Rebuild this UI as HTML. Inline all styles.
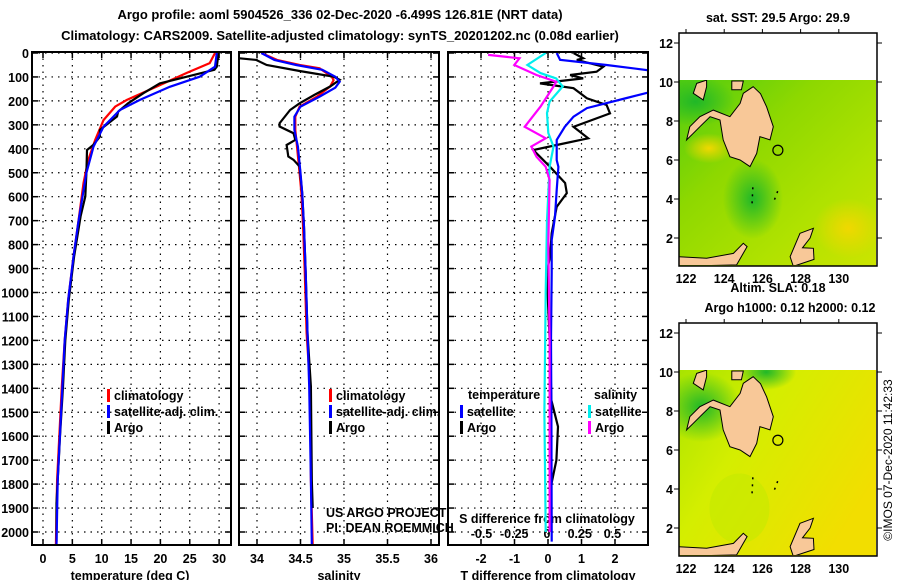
<!DOCTYPE html>
<html><head><meta charset="utf-8">
<style>
body{margin:0;background:#fff;}
svg{display:block;font-family:"Liberation Sans",sans-serif;}
.t{font-weight:bold;font-size:13px;fill:#000;}
.tk{font-weight:bold;font-size:12.5px;fill:#000;}
</style></head>
<body>
<svg id="c" width="900" height="580" viewBox="0 0 900 580">
<defs>
<linearGradient id="g1" x1="0" y1="0" x2="1" y2="1">
<stop offset="0" stop-color="#50cc10"/><stop offset="0.35" stop-color="#8ed800"/><stop offset="0.7" stop-color="#b0e200"/><stop offset="1" stop-color="#cce400"/></linearGradient>
<linearGradient id="g2" x1="0" y1="0" x2="1" y2="0.6">
<stop offset="0" stop-color="#a8e400"/><stop offset="0.4" stop-color="#d4ee00"/><stop offset="1" stop-color="#f2de00"/></linearGradient>
<radialGradient id="gr1"><stop offset="0" stop-color="#20b828"/><stop offset="1" stop-color="#20b828" stop-opacity="0"/></radialGradient>
<radialGradient id="gr2"><stop offset="0" stop-color="#f0d800"/><stop offset="1" stop-color="#f0d800" stop-opacity="0"/></radialGradient>
<clipPath id="cp1"><rect x="32" y="52" width="199" height="493"/></clipPath>
<clipPath id="cp2"><rect x="239" y="52" width="200" height="493"/></clipPath>
<clipPath id="cp3"><rect x="448" y="52" width="200" height="493"/></clipPath>
<clipPath id="cm1"><rect x="679" y="80" width="197" height="185"/></clipPath>
<clipPath id="cm2"><rect x="679" y="370" width="197" height="185"/></clipPath>
</defs>
<text class="t" x="340" y="19" text-anchor="middle">Argo profile: aoml 5904526_336 02-Dec-2020 -6.499S 126.81E (NRT data)</text>
<text class="t" x="340" y="40" text-anchor="middle">Climatology: CARS2009. Satellite-adjusted climatology: synTS_20201202.nc (0.08d earlier)</text>
<g id="plots"></g>
<g id="maps"></g>
<text x="892" y="460" font-size="12" text-anchor="middle" transform="rotate(-90 892 460)">©IMOS 07-Dec-2020 11:42:33</text>
</svg>
<script>
// ---- data ----
const depthLabels=[0,100,200,300,400,500,600,700,800,900,1000,1100,1200,1300,1400,1500,1600,1700,1800,1900,2000];
const tTicks=[0,5,10,15,20,25,30];
const sTicks=[34,34.5,35,35.5,36];
const sTickLabels=["34","34.5","35","35.5","36"];
const dTTicks=[-2,-1,0,1,2];
const dSTicks=[-0.5,-0.25,0,0.25,0.5];
const dSTickLabels=["-0.5","-0.25","0","0.25","0.5"];
// temperature profiles [depth, value]
const tClimDepth=[0,42,83,140,196,224,280,363,447,543,710,850,1030,1200,1393,1783,2055];
const tClimVal=[29.3,28.4,24.5,19.4,14.3,12.3,10.3,8.9,7.7,6.9,6.0,5.2,4.3,3.7,3.2,2.4,2.2];
const tSatDepth=[0,57,99,141,196,238,308,391,501,710,850,1030,1200,1393,1783,2055];
const tSatVal=[29.6,29.3,26.7,21.6,16.5,13.1,10.3,8.6,7.4,6.0,5.2,4.3,3.7,3.3,2.5,2.3];
const tArgoDepth=[0,57,70,99,127,168,210,245,265,321,349,383,405,501,599,682,850,1030,1200,1393,1600,1880,2040];
const tArgoVal=[29.9,29.6,29.2,24.5,19.9,17.1,14.5,12.8,12.6,9.7,9.7,8.6,7.5,7.4,7.2,6.4,5.3,4.4,3.8,3.4,2.9,2.3,2.3];
// salinity profiles
const sClimDepth=[0,29,50,64,99,113,140,182,224,266,321,391,501,585,726,918,1170,1393,1783,2055];
const sClimVal=[34.05,34.23,34.49,34.72,34.86,34.88,34.84,34.69,34.49,34.44,34.44,34.46,34.49,34.51,34.53,34.55,34.57,34.61,34.62,34.64];
const sSatDepth=[0,29,50,70,99,120,145,182,224,266,321,391,501,585,726,918,1170,1393,1783,2050];
const sSatVal=[34.05,34.2,34.45,34.75,34.9,34.95,34.9,34.72,34.5,34.43,34.43,34.47,34.5,34.52,34.54,34.56,34.58,34.6,34.62,34.63];
const sArgoDepth=[22,29,50,75,99,112,140,175,210,238,293,307,335,363,384,432,446,474,585,726,918,1170,1393,1783,1900];
const sArgoVal=[33.8,33.99,34.11,34.49,34.88,34.95,34.84,34.66,34.49,34.38,34.26,34.26,34.42,34.44,34.34,34.36,34.42,34.49,34.52,34.54,34.56,34.58,34.62,34.63,34.64];
// difference profiles
const dTSatDepth=[0,29,50,74,161,188,230,266,308,363,447,475,572,683,781,918,1200,1500,2040];
const dTSatVal=[0.26,0.36,1.75,3.1,3.1,2.35,1.16,0.76,0.5,0.26,0.26,0.31,0.26,0.21,0.11,0.11,0.09,0.1,0.11];
const dTArgoDepth=[0,22,29,57,78,92,106,127,147,189,217,252,308,356,384,405,475,543,585,642,752,850,918,1200,1450,1560,1700,1800,2000];
const dTArgoVal=[0.76,1.05,0.86,1.65,1.45,0.66,1.05,-0.24,0.76,1.16,1.75,1.85,0.76,1.2,0.26,-0.44,0.06,0.51,0.56,0.26,0.11,0.06,-0.04,0.05,0.1,0.3,0.25,0.1,0.1];
const dSSatDepth=[0,50,84,106,140,203,251,334,391,475,700,1000,1500,2000];
const dSSatVal=[-0.01,-0.15,-0.05,0.07,0.12,0.02,0,0.01,0.05,0.02,0,-0.01,-0.02,-0.01];
const dSArgoDepth=[8,22,50,92,120,140,224,308,356,391,433,475,530,800,1200,1600,2000];
const dSArgoVal=[-0.45,-0.21,-0.25,-0.08,0.07,0.05,-0.05,-0.17,-0.01,-0.12,-0.08,-0.01,0.02,0.01,0.02,0.02,0.02];
// map land polygons (lon,lat)
const mindanao=[[125.52,9.76],[125.9,9.4],[126.22,8.73],[126.57,7.71],[126.4,7.03],[125.87,7.2],[125.7,6.34],[125.35,5.66],[124.83,6.0],[124.3,6.17],[123.95,7.03],[123.78,8.05],[123.26,8.22],[122.73,7.71],[122.38,7.37],[122.03,7.03],[122.2,7.71],[122.73,8.22],[123.43,8.56],[124.3,8.22],[124.83,8.9],[125.0,9.42]];
const negros=[[122.56,9.93],[123.08,10.1],[123.08,9.76],[122.9,9.08],[122.38,9.42]];
const bohol=[[124.4,10.05],[125.0,10.05],[124.9,9.6],[124.4,9.6]];
const sulawesi=[[121.55,1.04],[123.08,0.96],[124.48,1.21],[125.0,1.73],[125.2,1.56],[124.65,0.62],[121.55,0.55]];
const halmahera=[[127.97,2.24],[128.67,2.5],[128.5,2.0],[128.1,1.5],[128.67,1.47],[128.7,0.9],[127.62,0.55],[127.45,1.04]];
const smallIsles=[[125.5,4.6],[125.45,3.6],[126.8,4.4],[126.55,3.75]];
const lonTicks=[122,124,126,128,130];
const latTicks=[2,4,6,8,10,12];
const argoPos=[126.81,6.5];

const NS='http://www.w3.org/2000/svg';
const plots=document.getElementById('plots'), maps=document.getElementById('maps');
function mk(tag,attrs,parent){const e=document.createElementNS(NS,tag);for(const k in attrs)e.setAttribute(k,attrs[k]);parent.appendChild(e);return e;}
const Y=d=>53+d*0.2395;
function panel(x0,x1,name){
  const g=mk('g',{},plots);
  
  
  return g;
}
function gridH(g,x0,x1){depthLabels.forEach(d=>{const y=Y(d);mk('line',{x1:x0,x2:x1,y1:y,y2:y,stroke:'#000','stroke-width':1.2,'stroke-dasharray':'1.5,5'},g);
 mk('line',{x1:x0,x2:x0+6,y1:y,y2:y,stroke:'#000','stroke-width':1.5},g);mk('line',{x1:x1-6,x2:x1,y1:y,y2:y,stroke:'#000','stroke-width':1.5},g);});}
function gridV(g,xs){xs.forEach(x=>{mk('line',{x1:x,x2:x,y1:52,y2:545,stroke:'#000','stroke-width':1.2,'stroke-dasharray':'1.5,5'},g);mk('line',{x1:x,x2:x,y1:52,y2:58,stroke:'#000','stroke-width':1.5},g);mk('line',{x1:x,x2:x,y1:539,y2:545,stroke:'#000','stroke-width':1.5},g);});}
function frame(g,x0,x1){mk('rect',{x:x0,y:52,width:x1-x0,height:493,fill:'none',stroke:'#000','stroke-width':2},g);}
function line(g,depths,vals,fx,color,clip,name){
  const pts=depths.map((d,i)=>fx(vals[i]).toFixed(1)+','+Y(d).toFixed(1)).join(' ');
  const p=mk('polyline',{points:pts,fill:'none',stroke:color,'stroke-width':2.2,'clip-path':'url(#'+clip+')'},g);
  
  
}
function txt(g,x,y,s,cls,anchor,name){const t=mk('text',{x:x,y:y,class:cls||'tk','text-anchor':anchor||'middle'},g);t.textContent=s;return t;}
function legend(g,x,y,color,label){mk('rect',{x:x,y:y-11,width:3,height:13,fill:color},g);txt(g,x+7,y,label,'tk','start','legend-entry');}

// Panel 1: temperature
const fT=v=>43+v*5.87;
let g=panel(32,231,'temperature-panel');
gridH(g,32,231);gridV(g,tTicks.map(fT));
depthLabels.forEach(d=>txt(g,29,Y(d)+5,String(d),'tk','end','depth-tick-label'));
tTicks.forEach(v=>txt(g,fT(v),563,String(v),'tk','middle','temperature-tick-label'));
txt(g,130,580,'temperature (deg C)','tk','middle','temperature-axis-title');
line(g,tClimDepth,tClimVal,fT,'#f00','cp1','temperature-climatology-line');
line(g,tArgoDepth,tArgoVal,fT,'#000','cp1','temperature-argo-line');
line(g,tSatDepth,tSatVal,fT,'#00f','cp1','temperature-satellite-line');
frame(g,32,231);
legend(g,107,400,'#f00','climatology');legend(g,107,416,'#00f','satellite-adj. clim.');legend(g,107,432,'#000','Argo');

// Panel 2: salinity
const fS=v=>257+(v-34)*87;
g=panel(239,439,'salinity-panel');
gridH(g,239,439);gridV(g,sTicks.map(fS));
sTicks.forEach((v,i)=>txt(g,fS(v),563,sTickLabels[i],'tk','middle','salinity-tick-label'));
txt(g,339,580,'salinity','tk','middle','salinity-axis-title');
line(g,sClimDepth,sClimVal,fS,'#f00','cp2','salinity-climatology-line');
line(g,sArgoDepth,sArgoVal,fS,'#000','cp2','salinity-argo-line');
line(g,sSatDepth,sSatVal,fS,'#00f','cp2','salinity-satellite-line');
frame(g,239,439);
legend(g,329,400,'#f00','climatology');legend(g,329,416,'#00f','satellite-adj. clim.');legend(g,329,432,'#000','Argo');
let t=txt(g,326,517,'US ARGO PROJECT','','start','project-credit');t.setAttribute('font-size','12.5');t.setAttribute('fill','#333');
t=txt(g,326,532,'PI: DEAN ROEMMICH','','start','pi-credit');t.setAttribute('font-size','12.5');t.setAttribute('fill','#333');

// Panel 3: differences
const fdT=v=>548+v*33.5, fdS=v=>547+v*131;
g=panel(448,648,'difference-panel');
gridH(g,448,648);gridV(g,dTTicks.map(fdT));
dTTicks.forEach(v=>txt(g,fdT(v),563,String(v),'tk','middle','t-diff-tick-label'));
txt(g,548,580,'T difference from climatology','tk','middle','t-diff-axis-title');
dSTicks.forEach((v,i)=>txt(g,fdS(v),538,dSTickLabels[i],'tk','middle','s-diff-tick-label'));
txt(g,547,523,'S difference from climatology','tk','middle','s-diff-axis-title');
line(g,dTArgoDepth,dTArgoVal,fdT,'#000','cp3','t-diff-argo-line');
line(g,dTSatDepth,dTSatVal,fdT,'#00f','cp3','t-diff-satellite-line');
line(g,dSSatDepth,dSSatVal,fdS,'#0ee','cp3','s-diff-satellite-line');
line(g,dSArgoDepth,dSArgoVal,fdS,'#f0f','cp3','s-diff-argo-line');
frame(g,448,648);
txt(g,468,399,'temperature','tk','start','legend-temperature-heading');
legend(g,460,416,'#00f','satellite');legend(g,460,432,'#000','Argo');
txt(g,594,399,'salinity','tk','start','legend-salinity-heading');
legend(g,588,416,'#0ee','satellite');legend(g,588,432,'#f0f','Argo');

// Maps
function map(off,name,grad,blobs,title1,title2){
  const mg=mk('g',{},maps);
  
  
  const X=lon=>686+(lon-122)*19.1, MY=lat=>82+off-(lat-10)*19.5;
  const cp=off?'cm2':'cm1';
  mk('rect',{x:679,y:80+off,width:197,height:186,fill:grad},mg);
  blobs.forEach(b=>mk('ellipse',{cx:X(b[0]),cy:MY(b[1]),rx:b[2],ry:b[3],fill:b[4],'clip-path':'url(#'+cp+')'},mg));
  [mindanao,negros,bohol,sulawesi,halmahera].forEach(poly=>{
    const p=mk('polygon',{points:poly.map(q=>X(q[0]).toFixed(1)+','+MY(q[1]).toFixed(1)).join(' '),fill:'#f8c898',stroke:'#000','stroke-width':1,'clip-path':'url(#'+cp+')'},mg);
    
    
  });
  for(let i=0;i<smallIsles.length;i+=2){const a=smallIsles[i],b=smallIsles[i+1];mk('line',{x1:X(a[0]),y1:MY(a[1]),x2:X(b[0]),y2:MY(b[1]),stroke:'#000','stroke-width':1.5,'stroke-dasharray':'2,5'},mg);}
  const c=mk('circle',{cx:X(argoPos[0]),cy:MY(argoPos[1]),r:5,fill:'none',stroke:'#000','stroke-width':1.2},mg);
  
  
  mk('rect',{x:679,y:33+off,width:198,height:233,fill:'none',stroke:'#000','stroke-width':1.5},mg);
  latTicks.forEach(l=>{const y=MY(l);txt(mg,673,y+5,String(l),'tk','end','latitude-tick-label');mk('line',{x1:877,x2:882,y1:y,y2:y,stroke:'#000'},mg);mk('line',{x1:674,x2:679,y1:y,y2:y,stroke:'#000'},mg);});
  lonTicks.forEach(l=>{const x=X(l);txt(mg,x,283+off,String(l),'tk','middle','longitude-tick-label');mk('line',{x1:x,x2:x,y1:33+off,y2:29+off,stroke:'#000'},mg);});
  if(title1)txt(mg,778,off?292:22,title1,'tk','middle','map-title');
  if(title2)txt(mg,790,312,title2,'tk','middle','map-subtitle');
}
map(0,'sst-map','url(#g1)',[[122.5,9,40,25,'url(#gr1)'],[125.5,4,30,40,'url(#gr1)'],[123.2,6.6,25,15,'url(#gr2)'],[130.5,2.5,35,30,'url(#gr2)']],'sat. SST: 29.5 Argo: 29.9');
map(290,'sla-map','url(#g2)',[[122.8,8.2,40,35,'url(#gr1)'],[126.2,10,30,18,'url(#gr1)'],[124.8,3,30,35,'#c0ea0080']],'Altim. SLA: 0.18','Argo h1000: 0.12 h2000: 0.12');
</script>
</body></html>
